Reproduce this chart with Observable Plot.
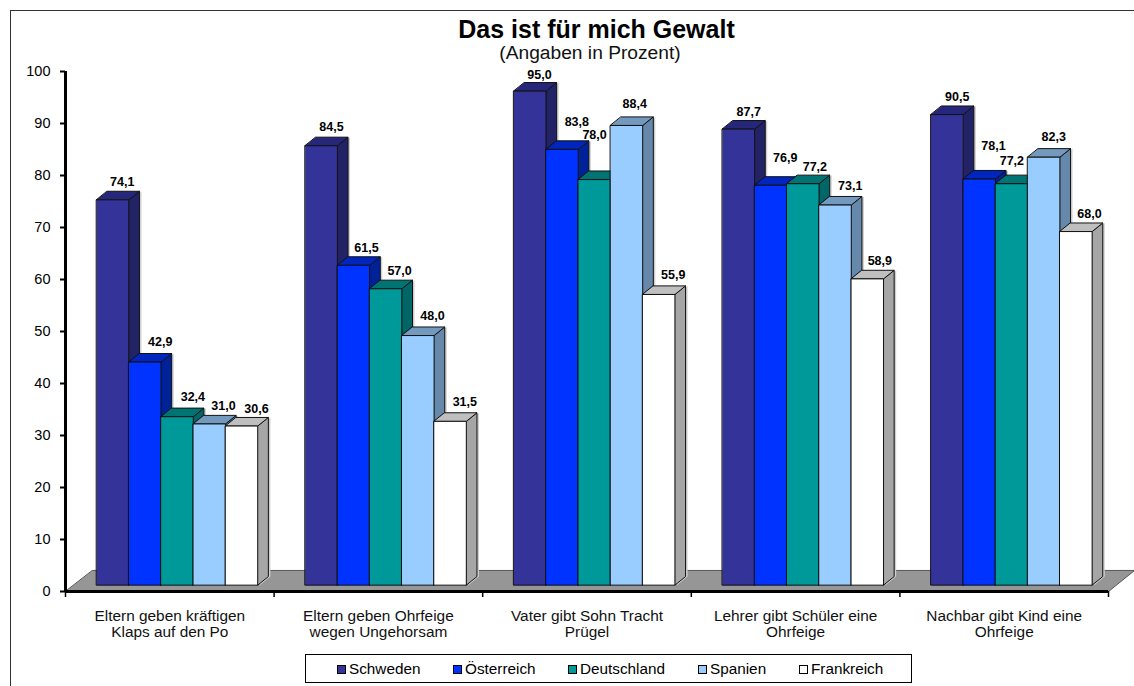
<!DOCTYPE html>
<html lang="de">
<head>
<meta charset="utf-8">
<script src="https://cdn.jsdelivr.net/npm/d3@7"></script>
<script src="https://cdn.jsdelivr.net/npm/@observablehq/plot@0.6"></script>
<style>
  html, body { margin: 0; padding: 0; background: #fff; }
  body { width: 1134px; height: 686px; position: relative; overflow: hidden; font-family: "Liberation Sans", Arial, sans-serif; color: #000; }
  #frame { position: absolute; left: 10px; top: 10px; right: -2px; bottom: -2px; border: 1px solid #333; }
  #chart { position: absolute; left: 0; top: 0; }
  #title { position: absolute; left: 0; width: 1193px; top: 14px; text-align: center; font-weight: bold; font-size: 25px; line-height: 30px; }
  #subtitle { position: absolute; left: 0; width: 1180px; top: 42px; text-align: center; font-size: 19.2px; line-height: 22px; color: #111; }
  #legend { position: absolute; left: 305px; top: 654px; width: 605px; height: 27px; border: 1px solid #000; background: #fff; box-sizing: content-box; }
  #legend span.item { position: absolute; top: 0; line-height: 27px; font-size: 15.3px; white-space: nowrap; }
  #legend i { display: inline-block; width: 7px; height: 7px; border: 1px solid #000; margin-right: 3px; vertical-align: 0; box-sizing: content-box; }
</style>
</head>
<body>
<div id="frame"></div>
<div id="chart"></div>
<div id="title">Das ist für mich Gewalt</div>
<div id="subtitle">(Angaben in Prozent)</div>
<div id="legend"></div>
<script>
const categories = [
  "Eltern geben kräftigen\nKlaps auf den Po",
  "Eltern geben Ohrfeige\nwegen Ungehorsam",
  "Vater gibt Sohn Tracht\nPrügel",
  "Lehrer gibt Schüler eine\nOhrfeige",
  "Nachbar gibt Kind eine\nOhrfeige"
];
const seriesNames = ["Schweden", "Österreich", "Deutschland", "Spanien", "Frankreich"];
const schweden    = [74.1, 84.5, 95.0, 87.7, 90.5];
const oesterreich = [42.9, 61.5, 83.8, 76.9, 78.1];
const deutschland = [32.4, 57.0, 78.0, 77.2, 77.2];
const spanien     = [31.0, 48.0, 88.4, 73.1, 82.3];
const frankreich  = [30.6, 31.5, 55.9, 58.9, 68.0];
const seriesValues = [schweden, oesterreich, deutschland, spanien, frankreich];
const frontColors = ["#333399", "#0033ff", "#009999", "#99ccff", "#ffffff"];
const topColors   = ["#26267a", "#0026bf", "#007373", "#7399bf", "#bfbfbf"];
const sideColors  = ["#222266", "#002299", "#006666", "#6688aa", "#a6a6a6"];

// 3D geometry of the chart, in scale units (x: one category = 1, y: percent)
const groupInset = 0.149, barWidth = 0.1545, depthX = 0.051, depthY = 1.65, baseY = 1.22;
// label placement as the original has it: pixels right of the bar's centre and above its front top, per category
const pxPerCategory = 208.6, pxPerPercent = 5.2;
const labelRight = [
  [9.5, 15.3, 15.7, 14.1, 14.9],
  [10.2, 13, 13.8, 14.5, 14.6],
  [9.6, 14.7, 0.2, 8.2, 14.4],
  [10.3, 14.5, 11.9, 15, 12.4],
  [10.1, 14.2, 0.3, 10, 13.5]
];
const labelAbove = [
  [17.6, 19.9, 19.5, 17.5, 17.5],
  [18.6, 17.6, 17.6, 19.4, 19.2],
  [16.4, 27.6, 44.4, 21.7, 19.3],
  [16.9, 27.1, 16.5, 19.5, 17.7],
  [17.3, 33.5, 22.5, 20, 17.3]
];

const polys = [], shadows = [], labels = [];
const add = (list, id, color, stroke, pts) => pts.forEach(([x, y]) => list.push({id, color, stroke, x, y}));
categories.forEach((_, g) => {
  seriesValues.forEach((vals, s) => {
    const v = vals[g];
    const x0 = g + groupInset + s * barWidth, x1 = x0 + barWidth;
    const y0 = baseY, y1 = v + baseY;
    const dx = depthX, dy = depthY;
    const side = [[x1, y0], [x1 + dx, y0 + dy], [x1 + dx, y1 + dy], [x1, y1]];
    add(shadows, `sh${g}${s}`, "#cfcfcf", "none", side);
    add(polys, `s${g}${s}`, sideColors[s], "#111", side);
    add(polys, `t${g}${s}`, topColors[s], "#111", [[x0, y1], [x1, y1], [x1 + dx, y1 + dy], [x0 + dx, y1 + dy]]);
    add(polys, `f${g}${s}`, frontColors[s], "#111", [[x0, y0], [x1, y0], [x1, y1], [x0, y1]]);
    labels.push({
      x: x0 + barWidth / 2 + labelRight[g][s] / pxPerCategory,
      y: y1 + labelAbove[g][s] / pxPerPercent,
      text: v.toFixed(1).replace(".", ",")
    });
  });
});
const floorPts = [];
add(floorPts, "floor", "#969696", "#555", [[0, 0], [5, 0], [5.125, 4.05], [0.13, 4.05]]);

const plot = Plot.plot({
  width: 1134, height: 686,
  marginLeft: 65, marginRight: 26, marginTop: 71, marginBottom: 95,
  style: {fontFamily: '"Liberation Sans", Arial, sans-serif', background: "transparent", overflow: "visible"},
  x: {type: "linear", domain: [0, 5], axis: null},
  y: {domain: [0, 100], axis: null},
  color: {type: "identity"},
  marks: [
    Plot.line(floorPts, {x: "x", y: "y", z: "id", fill: "color", stroke: "stroke", curve: "linear-closed", strokeWidth: 1}),
    Plot.line(shadows, {x: "x", y: "y", z: "id", fill: "color", curve: "linear-closed", dx: 2, stroke: "none"}),
    Plot.line(polys, {x: "x", y: "y", z: "id", fill: "color", stroke: "stroke", curve: "linear-closed", strokeWidth: 1, strokeLinejoin: "miter"}),
    Plot.axisY({ticks: d3.range(0, 101, 10), tickSize: 5, tickPadding: 10, fontSize: 14.5, label: null, stroke: "#000", strokeWidth: 2, fill: "#000", tickFormat: d => d}),
    Plot.axisX({ticks: d3.range(0, 6), tickSize: 6, tickFormat: () => "", label: null, stroke: "#000", strokeWidth: 1.5}),
    Plot.axisX({ticks: categories.map((_, i) => i + 0.5), tickSize: 0, tickPadding: 17, fontSize: 15.4, lineHeight: 1.1, label: null, fill: "#111",
      tickFormat: d => categories[Math.floor(d)], textOverflow: null, lineWidth: Infinity}),
    Plot.ruleX([0], {stroke: "#000", strokeWidth: 3}),
    Plot.ruleY([0], {stroke: "#000", strokeWidth: 3}),
    Plot.text(labels, {x: "x", y: "y", text: "text", fontSize: 12.5, fontWeight: "bold", fill: "#000"})
  ]
});
document.getElementById("chart").appendChild(plot);

const legendLefts = [31, 147, 262, 392, 493];
const legend = document.getElementById("legend");
seriesNames.forEach((name, i) => {
  const item = document.createElement("span");
  item.className = "item";
  item.style.left = legendLefts[i] + "px";
  const sw = document.createElement("i");
  sw.style.background = frontColors[i];
  item.appendChild(sw);
  item.appendChild(document.createTextNode(name));
  legend.appendChild(item);
});
</script>
</body>
</html>
